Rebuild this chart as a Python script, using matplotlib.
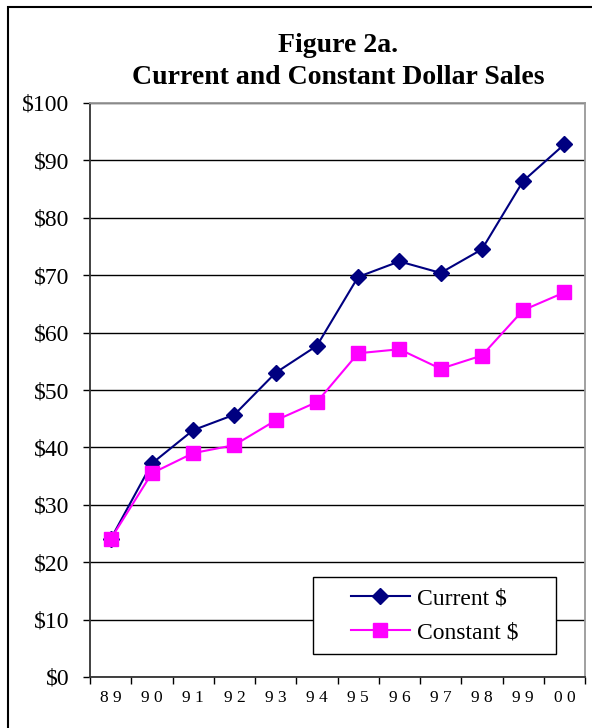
import matplotlib
matplotlib.use('Agg')
import matplotlib.pyplot as plt
from matplotlib.patches import Rectangle

# data
years = ['89', '90', '91', '92', '93', '94', '95', '96', '97', '98', '99', '00']
current = [24.0, 37.2, 43.0, 45.7, 53.0, 57.7, 69.7, 72.4, 70.4, 74.5, 86.4, 92.8]
constant = [24.0, 35.5, 39.0, 40.4, 44.7, 47.9, 56.4, 57.1, 53.7, 56.0, 63.9, 67.0]
y_ticks = [0, 10, 20, 30, 40, 50, 60, 70, 80, 90, 100]

plt.rcParams['font.family'] = ['Liberation Serif', 'DejaVu Serif']

W, H = 592, 728
fig = plt.figure(figsize=(W / 100, H / 100), dpi=100)
ax = fig.add_axes([90 / W, 1 - 677 / H, 495 / W, 574 / H])

x = list(range(len(years)))
ax.plot(x, current, color='#000080', lw=1.5, marker='D', ms=8.5,
        label='Current $', zorder=3)
ax.plot(x, constant, color='#FF00FF', lw=1.5, marker='s', ms=9.5,
        label='Constant $', zorder=3)

ax.set_xlim(-0.5, len(years) - 0.5)
ax.set_ylim(0, 100)
ax.set_yticks(y_ticks)
ax.set_yticklabels(['$' + str(v) for v in y_ticks], fontsize=17)
ax.yaxis.grid(True, color='black', lw=1)
ax.set_axisbelow(True)

# x labels centred in categories, ticks on the boundaries
ax.set_xticks([i - 0.5 for i in range(len(years) + 1)])
ax.set_xticklabels([])
ax.set_xticks(x, minor=True)
ax.set_xticklabels([' '.join(y) for y in years], minor=True, fontsize=12.5)
ax.tick_params(axis='x', which='minor', length=0, pad=9)
ax.tick_params(axis='x', which='major', length=5, width=1, direction='out')
ax.tick_params(axis='y', length=5, width=1, direction='out', pad=10)

ax.spines['left'].set_color('#333333')
ax.spines['bottom'].set_color('#333333')
ax.spines['top'].set_color('#999999')
ax.spines['right'].set_color('#999999')
for s in ax.spines.values():
    s.set_linewidth(1.3)

# legend box drawn by hand so the entries sit centred in it
ax.add_patch(Rectangle((0.4505, 0.0401), 0.491, 0.134, transform=ax.transAxes,
                       facecolor='white', edgecolor='black', lw=1, zorder=4))
ax.legend(loc='center', bbox_to_anchor=(0.696, 0.107), fontsize=17,
          frameon=False, handlelength=2.5, labelspacing=0.55,
          handletextpad=0.3, borderpad=0, borderaxespad=0).set_zorder(5)

fig.text(338 / W, 1 - 45 / H, 'Figure 2a.', ha='center', va='center',
         fontsize=20, fontweight='bold')
fig.text(338 / W, 1 - 78 / H, 'Current and Constant Dollar Sales', ha='center',
         va='center', fontsize=20, fontweight='bold')

# outer frame, runs off the right and bottom of the image
fig.patches.append(Rectangle((8 / W, -0.1), 1.2, 1.1 - 7 / H,
                             transform=fig.transFigure, fill=False,
                             edgecolor='black', lw=1.5))

fig.savefig('out.png', dpi=100)
